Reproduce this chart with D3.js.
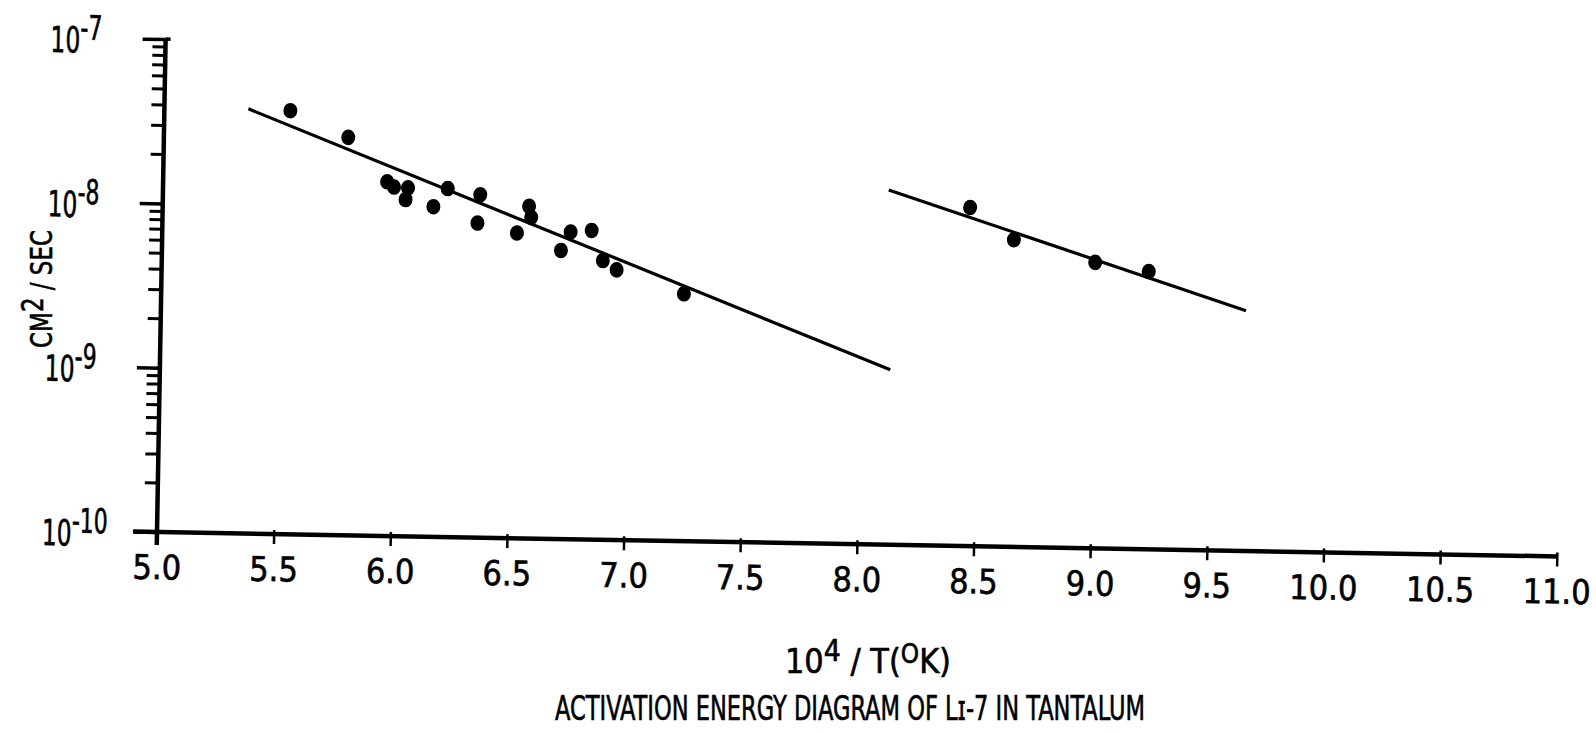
<!DOCTYPE html>
<html>
<head>
<meta charset="utf-8">
<script src="https://cdn.jsdelivr.net/npm/d3@7"></script>
<style>
  body { margin: 0; background: #fff; }
  svg { display: block; }
  text { stroke: #000; stroke-width: 0.6px; }
</style>
</head>
<body>
<script>
// x tick values (10^4 / T) and decade labels for the log axis
var xTicks = [5.0, 5.5, 6.0, 6.5, 7.0, 7.5, 8.0, 8.5, 9.0, 9.5, 10.0, 10.5, 11.0];
var yDecades = [1e-10, 1e-9, 1e-8, 1e-7];
var yExponents = ["-10", "-9", "-8", "-7"];

// measured diffusion coefficients, high temperature run
var highX = [5.54, 5.79, 5.96, 5.99, 6.05, 6.04, 6.16, 6.22, 6.36, 6.35,
             6.52, 6.57, 6.58, 6.75, 6.84, 6.71, 6.89, 6.95, 7.24];
var highD = [3.78e-8, 2.64e-8, 1.43e-8, 1.33e-8, 1.32e-8, 1.12e-8, 1.02e-8, 1.32e-8, 1.22e-8, 8.2e-9,
             7.2e-9, 1.05e-8, 9.0e-9, 7.4e-9, 7.6e-9, 5.7e-9, 5.0e-9, 4.4e-9, 3.2e-9];

// low temperature run
var lowX = [8.46, 8.65, 9.00, 9.23];
var lowD = [1.15e-8, 7.4e-9, 5.5e-9, 4.9e-9];

// straight line fits (end points)
var fitHighX = [5.36, 8.13];
var fitHighD = [3.84e-8, 1.16e-9];
var fitLowX = [8.11, 9.65];
var fitLowD = [1.44e-8, 2.9e-9];

var width = 1596, height = 733;
var font = "'DejaVu Sans Condensed', 'Liberation Sans Narrow', sans-serif";

var svg = d3.select("body").append("svg")
    .attr("width", width)
    .attr("height", height)
    .style("background", "#fff");

// plot frame sits a little tilted on the page
var g = svg.append("g")
    .attr("transform", "translate(157,532) rotate(1)");

var x = d3.scaleLinear().domain([5, 11]).range([0, 1400]);
var y = d3.scaleLog().domain([1e-10, 1e-7]).range([0, -493]);

// minor log ticks 2..9 in each decade
var minorTicks = [];
yDecades.slice(0, 3).forEach(function(d) {
  for (var k = 2; k <= 9; k++) minorTicks.push(d * k);
});

// x axis
var xAxis = g.append("g")
    .call(d3.axisBottom(x)
      .tickValues(xTicks)
      .tickSize(10)
      .tickSizeOuter(0)
      .tickPadding(13)
      .tickFormat(d3.format(".1f")));
xAxis.select(".domain").remove();
xAxis.selectAll(".tick line")
    .attr("y1", -4)
    .attr("stroke", "#000")
    .attr("stroke-width", 2.5);
xAxis.selectAll(".tick text")
    .attr("fill", "#000")
    .attr("font-size", 34)
    .attr("font-family", font);

g.append("line")
    .attr("x1", x(5) - 24).attr("x2", x(11))
    .attr("y1", y(1e-10)).attr("y2", y(1e-10))
    .attr("stroke", "#000")
    .attr("stroke-width", 4.5);

// y axis
var yMinor = g.append("g")
    .call(d3.axisLeft(y).tickValues(minorTicks).tickSize(13).tickSizeOuter(0).tickFormat(""));
yMinor.select(".domain").remove();
yMinor.selectAll(".tick line").attr("stroke", "#000").attr("stroke-width", 3);

var yMajor = g.append("g")
    .call(d3.axisLeft(y).tickValues(yDecades).tickSize(23).tickSizeOuter(0).tickFormat(""));
yMajor.select(".domain").remove();
yMajor.selectAll(".tick line").attr("stroke", "#000").attr("stroke-width", 3.5);

// top decade tick crosses the axis
g.append("line")
    .attr("x1", x(5)).attr("x2", x(5) + 5)
    .attr("y1", y(1e-7)).attr("y2", y(1e-7))
    .attr("stroke", "#000").attr("stroke-width", 3.5);

g.append("line")
    .attr("x1", x(5)).attr("x2", x(5))
    .attr("y1", y(1e-10) + 13).attr("y2", y(1e-7))
    .attr("stroke", "#000")
    .attr("stroke-width", 4.5);

// decade labels 10^n, squeezed horizontally
var yLab = g.selectAll(".ylab")
    .data(yDecades)
    .enter().append("text")
    .attr("class", "ylab")
    .attr("transform", function(d) { return "translate(-115," + (y(d) + 15) + ") scale(0.72,1)"; })
    .attr("font-family", font)
    .attr("font-size", 36)
    .attr("fill", "#000");
yLab.append("tspan").text("10");
yLab.append("tspan")
    .attr("dy", -13)
    .attr("font-size", 34)
    .text(function(d, i) { return yExponents[i]; });

// fitted lines
var line = d3.line()
    .x(function(d) { return x(d[0]); })
    .y(function(d) { return y(d[1]); });

g.append("path")
    .attr("d", line(d3.zip(fitHighX, fitHighD)))
    .attr("fill", "none")
    .attr("stroke", "#000")
    .attr("stroke-width", 3.2);

g.append("path")
    .attr("d", line(d3.zip(fitLowX, fitLowD)))
    .attr("fill", "none")
    .attr("stroke", "#000")
    .attr("stroke-width", 3.2);

// data points
g.selectAll(".hi")
    .data(d3.zip(highX, highD))
    .enter().append("ellipse")
    .attr("class", "hi")
    .attr("cx", function(d) { return x(d[0]); })
    .attr("cy", function(d) { return y(d[1]); })
    .attr("rx", 7)
    .attr("ry", 7.8)
    .attr("fill", "#000");

g.selectAll(".lo")
    .data(d3.zip(lowX, lowD))
    .enter().append("ellipse")
    .attr("class", "lo")
    .attr("cx", function(d) { return x(d[0]); })
    .attr("cy", function(d) { return y(d[1]); })
    .attr("rx", 7)
    .attr("ry", 7.8)
    .attr("fill", "#000");

// y axis title
var yTitle = svg.append("text")
    .attr("transform", "translate(52,289) rotate(-90)")
    .attr("text-anchor", "middle")
    .attr("font-family", font)
    .attr("font-size", 30)
    .attr("fill", "#000")
    .attr("textLength", 118)
    .attr("lengthAdjust", "spacingAndGlyphs");
yTitle.append("tspan").text("CM");
yTitle.append("tspan").attr("dy", -9).text("2");
yTitle.append("tspan").attr("dy", 9).text(" / SEC");

// x axis title
var xTitle = svg.append("text")
    .attr("x", 868)
    .attr("y", 673)
    .attr("text-anchor", "middle")
    .attr("font-family", font)
    .attr("font-size", 34)
    .attr("fill", "#000")
    .attr("textLength", 166)
    .attr("lengthAdjust", "spacingAndGlyphs");
xTitle.append("tspan").text("10");
xTitle.append("tspan").attr("dy", -12).attr("font-size", 30).text("4");
xTitle.append("tspan").attr("dy", 12).text(" / T(");
xTitle.append("tspan").attr("dy", -10).attr("font-size", 26).text("O");
xTitle.append("tspan").attr("dy", 10).text("K)");

// caption
svg.append("text")
    .attr("x", 850)
    .attr("y", 720)
    .attr("text-anchor", "middle")
    .attr("font-family", font)
    .attr("font-size", 33)
    .attr("fill", "#000")
    .attr("textLength", 590)
    .attr("lengthAdjust", "spacingAndGlyphs")
    .text("ACTIVATION ENERGY DIAGRAM OF L\u026a-7 IN TANTALUM");
</script>
</body>
</html>
